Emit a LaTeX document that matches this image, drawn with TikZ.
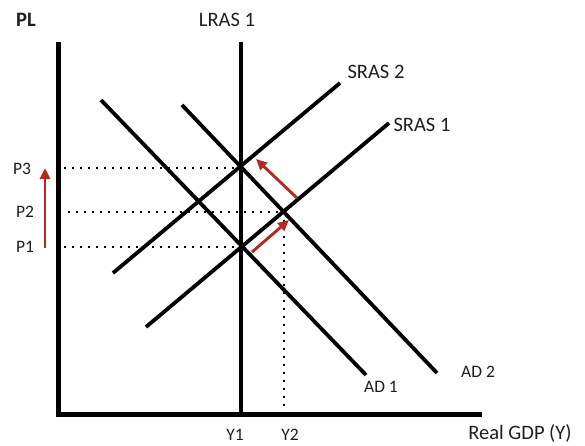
\documentclass[tikz,border=0pt]{standalone}
\usepackage{fontspec}
\setmainfont{Carlito}
\usetikzlibrary{arrows.meta}
\definecolor{arrred}{RGB}{178,42,36}
\definecolor{txt}{RGB}{30,30,30}
\tikzset{
  axisline/.style={line width=5pt, black},
  curve/.style={line width=3.8pt, black},
  guide/.style={line width=1.8pt, black, dash pattern=on 1.8pt off 6.2pt},
  redarrow/.style={line width=2.9pt, arrred, -{Triangle[length=11pt,width=10pt]}},
  biglabel/.style={font=\fontsize{20.5}{22}\selectfont, text=txt, inner sep=0pt},
  smalllabel/.style={font=\fontsize{17.5}{19}\selectfont, text=txt, inner sep=0pt}
}
\begin{document}
\begin{tikzpicture}[x=1pt,y=-1pt]
\useasboundingbox (0,0) rectangle (585,445);
% coordinates
\coordinate (ytop) at (58,42);
\coordinate (origin) at (58,414);
\coordinate (xend) at (482,414);
\coordinate (lrastop) at (241,42);
\coordinate (lrasbot) at (241,414);
\coordinate (ad1a) at (101,100);
\coordinate (ad1b) at (366,375);
\coordinate (ad2a) at (182,105);
\coordinate (ad2b) at (437,373);
\coordinate (sras2a) at (113,273);
\coordinate (sras2b) at (340,83);
\coordinate (sras1a) at (146,327);
\coordinate (sras1b) at (389,123);
\coordinate (e3) at (241,168);
\coordinate (e2) at (284,212);
\coordinate (e1) at (241,247);
\coordinate (d3) at (64,168);
\coordinate (d2) at (68,212);
\coordinate (d1) at (64,247);
\coordinate (y2b) at (284,412);
% guides
\draw[guide] (d3) -- (e3);
\draw[guide] (d2) -- (e2);
\draw[guide] (d1) -- (e1);
\draw[guide] (e2) -- (y2b);
% curves
\draw[curve] (ad1a) -- (ad1b);
\draw[curve] (ad2a) -- (ad2b);
\draw[curve] (sras2a) -- (sras2b);
\draw[curve] (sras1a) -- (sras1b);
\draw[curve] (lrastop) -- (lrasbot);
% axes
\draw[axisline, line cap=butt] (ytop) -- (origin) -- (xend);
% red arrows
\coordinate (ra1) at (45,248);
\coordinate (ra2) at (45,168);
\coordinate (rb1) at (297,198);
\coordinate (rb2) at (256,159);
\coordinate (rc1) at (252,252);
\coordinate (rc2) at (289,220);
\draw[redarrow] (ra1) -- (ra2);
\draw[redarrow] (rb1) -- (rb2);
\draw[redarrow] (rc1) -- (rc2);
% labels
\node[biglabel, font=\fontsize{20.5}{22}\selectfont\bfseries] (pl) at (26,20) {PL};
\node[biglabel] (lras) at (227,20) {LRAS 1};
\node[biglabel] (sras2) at (376,72) {SRAS 2};
\node[biglabel] (sras1) at (422,125) {SRAS 1};
\node[smalllabel] (ad1) at (381,387) {AD 1};
\node[smalllabel] (ad2) at (478,372) {AD 2};
\node[smalllabel] (p3) at (22,169) {P3};
\node[smalllabel] (p2) at (25,212) {P2};
\node[smalllabel] (p1) at (25,247) {P1};
\node[smalllabel] (y1) at (235,435) {Y1};
\node[smalllabel] (y2) at (290,435) {Y2};
\node[biglabel] (gdp) at (520,433) {Real GDP (Y)};
\end{tikzpicture}
\end{document}
